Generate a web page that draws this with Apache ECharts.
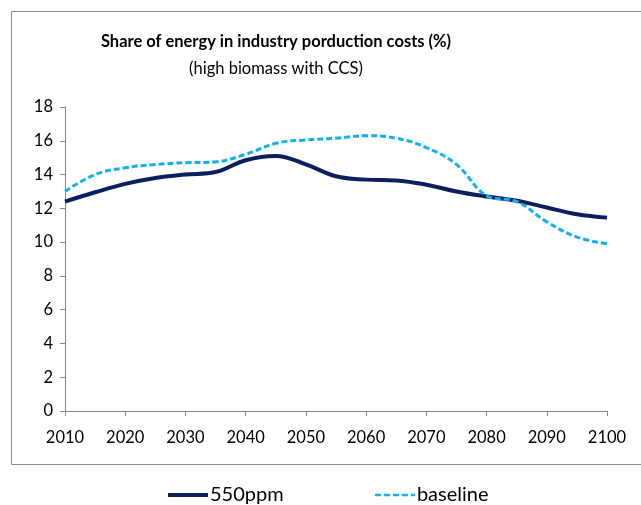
<!DOCTYPE html>
<html>
<head>
<meta charset="utf-8">
<script src="https://cdn.jsdelivr.net/npm/echarts@6/dist/echarts.min.js"></script>
<style>
  html, body { margin: 0; padding: 0; background: #fff; }
  #chart { width: 641px; height: 505px; }
</style>
</head>
<body>
<div id="chart"></div>
<script>
// years (5-year steps)
const years = [2010, 2015, 2020, 2025, 2030, 2035, 2040, 2045, 2050, 2055,
  2060, 2065, 2070, 2075, 2080, 2085, 2090, 2095, 2100]
// share of energy in production costs, %
const ppm550 = [12.4, 12.95, 13.45, 13.8, 14.0, 14.15, 14.85, 15.1, 14.6, 13.9,
  13.7, 13.65, 13.4, 13.0, 12.7, 12.45, 12.05, 11.65, 11.45]
const baseline = [13.0, 14.0, 14.4, 14.6, 14.7, 14.75, 15.2, 15.85, 16.05, 16.15,
  16.3, 16.15, 15.6, 14.6, 12.75, 12.4, 11.2, 10.3, 9.9]
const seriesNames = ['550ppm', 'baseline']

const font = 'Lato, "Open Sans", sans-serif'
const axisGray = '#868686'

let chart = echarts.init(document.getElementById('chart'))

chart.setOption({
  animation: false,
  textStyle: { fontFamily: font },
  graphic: [{
    type: 'rect',
    shape: { x: 11.5, y: 11.5, width: 640, height: 453 },
    style: { fill: 'none', stroke: '#8c8c8c', lineWidth: 1 },
    silent: true
  }],
  title: {
    left: 271,
    textAlign: 'center',
    top: 28,
    itemGap: 10,
    text: '{b|Share of energy in industry porduction costs }{n|(%)}',
    subtext: '(high biomass with CCS)',
    textStyle: {
      rich: {
        b: { fontFamily: font, fontSize: 16.5, fontWeight: 'bold', color: '#000' },
        n: { fontFamily: font, fontSize: 16.5, color: '#000' }
      }
    },
    subtextStyle: { fontFamily: font, fontSize: 16.5, color: '#000' }
  },
  legend: {
    top: 480,
    left: 161,
    itemWidth: 40,
    itemHeight: 12,
    itemGap: 90,
    data: [
      { name: seriesNames[0], lineStyle: { width: 4 } },
      { name: seriesNames[1], lineStyle: { width: 2.5 } }
    ],
    itemStyle: { opacity: 0 },
    textStyle: { fontFamily: font, fontSize: 20, color: '#000', padding: [0, 0, 0, -3] }
  },
  grid: { left: 65, right: 34, top: 107, bottom: 94, containLabel: false },
  xAxis: {
    type: 'value',
    min: 2010,
    max: 2100,
    interval: 10,
    axisLine: { lineStyle: { color: axisGray } },
    axisTick: { length: 5, lineStyle: { color: axisGray } },
    axisLabel: { color: '#000', fontSize: 16.5, margin: 18, formatter: v => String(v) },
    splitLine: { show: false }
  },
  yAxis: {
    type: 'value',
    min: 0,
    max: 18,
    interval: 2,
    axisLine: { show: true, lineStyle: { color: axisGray } },
    axisTick: { show: true, length: 5, lineStyle: { color: axisGray } },
    axisLabel: { color: '#000', fontSize: 16.5, margin: 12 },
    splitLine: { show: false }
  },
  series: [
    {
      name: seriesNames[0],
      type: 'line',
      smooth: 0.4,
      symbol: 'none',
      data: years.map((y, i) => [y, ppm550[i]]),
      lineStyle: { color: '#0b1f5e', width: 4 },
      itemStyle: { color: '#0b1f5e' },
      z: 2
    },
    {
      name: seriesNames[1],
      type: 'line',
      smooth: 0.4,
      symbol: 'none',
      data: years.map((y, i) => [y, baseline[i]]),
      lineStyle: { color: '#12b0ef', width: 3, type: [6, 3] },
      itemStyle: { color: '#12b0ef' },
      z: 3
    }
  ]
})
</script>
</body>
</html>
